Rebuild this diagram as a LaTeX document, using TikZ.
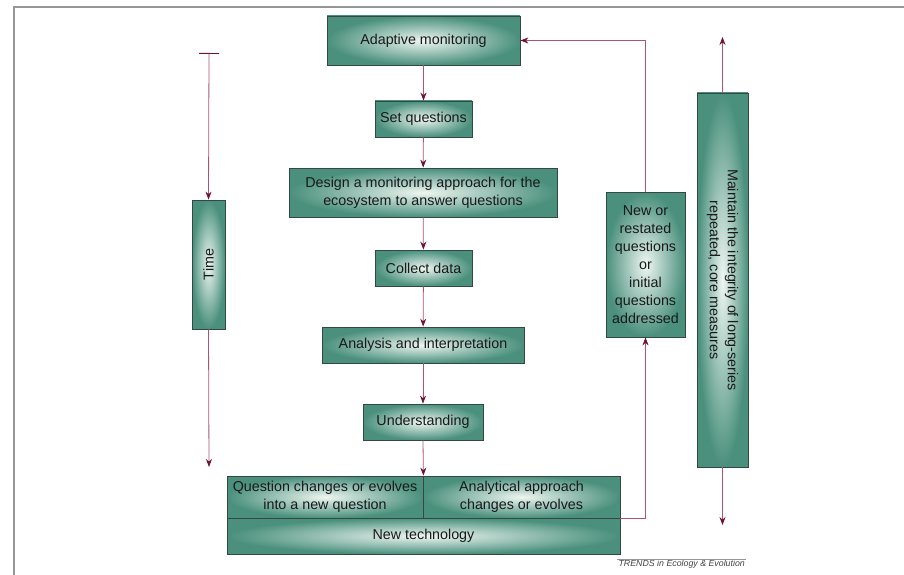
\documentclass[tikz,border=0pt]{standalone}
\usepackage{fontspec}
\setmainfont{Liberation Sans}
\usepackage{tikz}
\usetikzlibrary{positioning,calc,arrows.meta}
\usepackage{xcolor}
\definecolor{boxteal}{RGB}{74,144,124}
\definecolor{boxlight}{RGB}{238,246,242}
\definecolor{boxedge}{RGB}{50,72,64}
\definecolor{flowline}{RGB}{168,84,114}
\definecolor{flowhead}{RGB}{112,18,52}
\definecolor{framegray}{RGB}{150,150,150}

\begin{document}
\begin{tikzpicture}[x=1pt,y=-1pt,
    etape/.style={rectangle,draw=boxedge,line width=0.8pt,inner color=boxlight,outer color=boxteal,
      align=center,inner sep=0pt,text=black!90,font=\fontsize{14.3}{18}\selectfont},
    fleche/.style={draw=flowline,line width=0.8pt,-{Stealth[length=8pt,width=6pt,color=flowhead]}}]

\useasboundingbox (0,0) rectangle (904,575);
\draw[framegray,line width=1.2pt] (14,575) -- (14,7) -- (904,7);

% colonne centrale
\node[etape,minimum width=193pt,minimum height=49pt] (adapt) at (423.5,40.5) {Adaptive monitoring};
\node[etape,minimum width=97pt,minimum height=36pt] (setq) at (423.5,119) {Set questions};
\node[etape,minimum width=268pt,minimum height=49pt] (design) at (423,192.5) {Design a monitoring approach for the\\ecosystem to answer questions};
\node[etape,minimum width=97pt,minimum height=36pt] (collect) at (423.5,268) {Collect data};
\node[etape,minimum width=202pt,minimum height=36pt] (analysis) at (423,345) {Analysis and interpretation};
\node[etape,minimum width=120pt,minimum height=36pt] (underst) at (423,422) {Understanding};

% bloc du bas
\node[etape,minimum width=196pt,minimum height=42pt] (qchg) at (325,497) {Question changes or evolves\\into a new question};
\node[etape,minimum width=197pt,minimum height=42pt] (achg) at (521.5,497) {Analytical approach\\changes or evolves};
\node[etape,minimum width=393pt,minimum height=36pt] (tech) at (423.5,536) {New technology};

% cotes
\node[etape,rotate=90,minimum width=129pt,minimum height=33pt] (time) at (208.5,264.5) {Time};
\node[etape,minimum width=79pt,minimum height=145pt] (newq) at (645.5,264.5) {New or\\restated\\questions\\or\\initial\\questions\\addressed};
\node[etape,rotate=-90,minimum width=374pt,minimum height=51pt] (keep) at (722.5,280) {Maintain the integrity of long-series\\repeated, core measures};

\coordinate (tstart) at (209,53);
\coordinate (tend) at (209,467);
\coordinate (kup) at (722.5,37);
\coordinate (kdown) at (722.5,525);

\draw[fleche] (adapt) -- (setq);
\draw[fleche] (setq) -- (design);
\draw[fleche] (design) -- (collect);
\draw[fleche] (collect) -- (analysis);
\draw[fleche] (analysis) -- (underst);
\draw[fleche] (underst.south) -- (qchg.north east);
\draw[fleche] (achg.south east) -| (newq.south);
\draw[fleche] (newq.north) |- (adapt.east);

\draw[fleche,{Bar[width=20pt,color=flowhead]}-{Stealth[length=8pt,width=6pt,color=flowhead]}] (tstart) -- (time.east);
\draw[fleche] (time.west) -- (tend);
\draw[fleche] (keep.west) -- (kup);
\draw[fleche] (keep.east) -- (kdown);

\node[anchor=north east,inner sep=1pt,font=\fontsize{8.8}{10}\selectfont\itshape,text=black!75] (src) at (746,559) {TRENDS in Ecology \& Evolution};
\draw[framegray,line width=0.7pt] (src.north west) -- (src.north east);

\end{tikzpicture}
\end{document}
